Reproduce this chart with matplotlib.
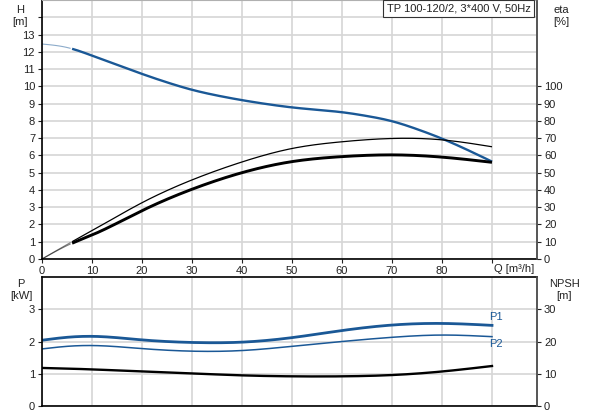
import numpy as np
import matplotlib
matplotlib.use("Agg")
import matplotlib.pyplot as plt

plt.rcParams['font.family'] = ['Liberation Sans', 'DejaVu Sans']
plt.rcParams['font.size'] = 8

# Q [m3/h] sample points
q = [0, 5, 10, 15, 20, 25, 30, 35, 40, 45, 50, 55, 60, 65, 70, 75, 80, 85, 90]
# head H [m]
head = [12.45, 12.25, 11.78, 11.25, 10.72, 10.23, 9.8, 9.47, 9.2, 8.97, 8.78,
        8.64, 8.5, 8.28, 7.98, 7.52, 6.97, 6.33, 5.64]

# efficiency [%]
q_eta = [0, 6, 10, 20, 30, 40, 50, 60, 70, 80, 90]
eta_thin = [0, 10.0, 16.4, 32.6, 45.8, 56.2, 64.0, 67.9, 69.8, 69.0, 65.0]
eta_thick = [0, 9.1, 13.9, 28.0, 40.4, 50.0, 56.4, 59.3, 60.3, 59.0, 56.0]

# power [kW] and NPSH [m]
q_p = [0, 5, 10, 20, 30, 40, 50, 60, 70, 80, 90]
p1 = [2.04, 2.13, 2.16, 2.05, 1.97, 1.98, 2.12, 2.34, 2.51, 2.56, 2.5]
p2 = [1.77, 1.85, 1.875, 1.78, 1.70, 1.72, 1.85, 2.0, 2.13, 2.2, 2.15]
npsh = [11.8, 11.6, 11.35, 10.7, 10.1, 9.5, 9.2, 9.2, 9.6, 10.7, 12.4]

blue = '#1a5896'
txt = '#222222'
grid = '#d6d6d6'
q_start = 6


def spline(x, y, n=300):
    # natural cubic spline through the read points
    x = np.asarray(x, float)
    y = np.asarray(y, float)
    k = len(x)
    h = np.diff(x)
    A = np.zeros((k, k))
    b = np.zeros(k)
    A[0, 0] = A[-1, -1] = 1
    for i in range(1, k - 1):
        A[i, i - 1] = h[i - 1]
        A[i, i] = 2 * (h[i - 1] + h[i])
        A[i, i + 1] = h[i]
        b[i] = 3 * ((y[i + 1] - y[i]) / h[i] - (y[i] - y[i - 1]) / h[i - 1])
    c = np.linalg.solve(A, b)
    xs = np.linspace(x[0], x[-1], n)
    idx = np.clip(np.searchsorted(x, xs) - 1, 0, k - 2)
    dx = xs - x[idx]
    hi = h[idx]
    bb = (y[idx + 1] - y[idx]) / hi - hi * (2 * c[idx] + c[idx + 1]) / 3
    dd = (c[idx + 1] - c[idx]) / (3 * hi)
    ys = y[idx] + bb * dx + c[idx] * dx ** 2 + dd * dx ** 3
    return xs, ys


def split_plot(a, x, y, color, lw, scale=1.0):
    xs, ys = spline(x, y)
    ys = ys * scale
    m0 = xs <= q_start
    a.plot(xs[m0], ys[m0], color=color, lw=0.8, alpha=0.5, solid_capstyle='butt')
    m1 = xs >= q_start - 0.2
    a.plot(xs[m1], ys[m1], color=color, lw=lw, solid_capstyle='butt')


def style_right(a):
    a.tick_params(colors=txt, labelsize=8, length=3, width=0.8, pad=2)
    a.spines['right'].set_color('#555555')
    a.spines['right'].set_linewidth(1.2)
    for s in ['left', 'top', 'bottom']:
        a.spines[s].set_visible(False)


fig = plt.figure(figsize=(5.93, 4.15), dpi=100)
ax = fig.add_axes([42 / 593, 156 / 415, 495 / 593, 259 / 415])
ax2 = fig.add_axes([42 / 593, 9 / 415, 495 / 593, 129 / 415])

# --- upper chart: head and efficiency
split_plot(ax, q, head, blue, 1.7)
split_plot(ax, q_eta, eta_thin, 'black', 0.9, 0.1)
split_plot(ax, q_eta, eta_thick, 'black', 2.1, 0.1)

ax.set_xlim(0, 99)
ax.set_ylim(0, 15)
ax.set_xticks(range(0, 100, 10))
ax.set_xticklabels([str(v) for v in range(0, 90, 10)] + [''])
ax.set_yticks(range(0, 15))
ax.set_yticklabels([str(v) for v in range(0, 14)] + [''])
ax.grid(True, color=grid, lw=1.2)
ax.set_axisbelow(True)
ax.tick_params(colors=txt, labelsize=8, length=3, width=0.8, pad=2)
for s in ['left', 'bottom']:
    ax.spines[s].set_color('black')
    ax.spines[s].set_linewidth(1.2)
ax.spines['top'].set_color('#b0b0b0')
ax.spines['right'].set_color('#555555')
ax.spines['right'].set_linewidth(1.2)

axr = ax.twinx()
axr.set_ylim(0, 150)
axr.set_yticks(range(0, 101, 10))
style_right(axr)

fig.text(20 / 593, 1 - 13 / 415, 'H', color=txt, ha='center', fontsize=8)
fig.text(20 / 593, 1 - 25 / 415, '[m]', color=txt, ha='center', fontsize=8)
fig.text(561 / 593, 1 - 13 / 415, 'eta', color=txt, ha='center', fontsize=8)
fig.text(561 / 593, 1 - 25 / 415, '[%]', color=txt, ha='center', fontsize=8)
fig.text(514 / 593, 1 - 272 / 415, 'Q [m³/h]', color=txt, ha='center', fontsize=8)
ax.text(0.987, 0.988, 'TP 100-120/2, 3*400 V, 50Hz', transform=ax.transAxes,
        ha='right', va='top', fontsize=8, color=txt,
        bbox=dict(facecolor='white', edgecolor='#333333', lw=0.8, pad=2.5))

# --- lower chart: power and NPSH
xs, ys = spline(q_p, p1)
ax2.plot(xs, ys, color=blue, lw=2.0)
xs, ys = spline(q_p, p2)
ax2.plot(xs, ys, color=blue, lw=1.1)
xs, ys = spline(q_p, npsh)
ax2.plot(xs, ys / 10, color='black', lw=1.7)
ax2.text(89.5, 2.62, 'P1', color=blue, fontsize=8, ha='left', va='bottom')
ax2.text(89.5, 2.08, 'P2', color=blue, fontsize=8, ha='left', va='top')

ax2.set_xlim(0, 99)
ax2.set_ylim(0, 4)
ax2.set_xticks(range(0, 100, 10))
ax2.tick_params(axis='x', length=0, labelbottom=False)
ax2.set_yticks(range(0, 4))
ax2.grid(True, color=grid, lw=1.2)
ax2.set_axisbelow(True)
ax2.tick_params(axis='y', colors=txt, labelsize=8, length=3, width=0.8, pad=2)
for s in ['left', 'bottom', 'top']:
    ax2.spines[s].set_color('black')
    ax2.spines[s].set_linewidth(1.2)
ax2.spines['right'].set_color('#555555')
ax2.spines['right'].set_linewidth(1.2)

ax2r = ax2.twinx()
ax2r.set_ylim(0, 40)
ax2r.set_yticks(range(0, 31, 10))
style_right(ax2r)

fig.text(21 / 593, 1 - 287 / 415, 'P', color=txt, ha='center', fontsize=8)
fig.text(21 / 593, 1 - 299 / 415, '[kW]', color=txt, ha='center', fontsize=8)
fig.text(564 / 593, 1 - 287 / 415, 'NPSH', color=txt, ha='center', fontsize=8)
fig.text(564 / 593, 1 - 299 / 415, '[m]', color=txt, ha='center', fontsize=8)

fig.savefig('out.png', dpi=100)
